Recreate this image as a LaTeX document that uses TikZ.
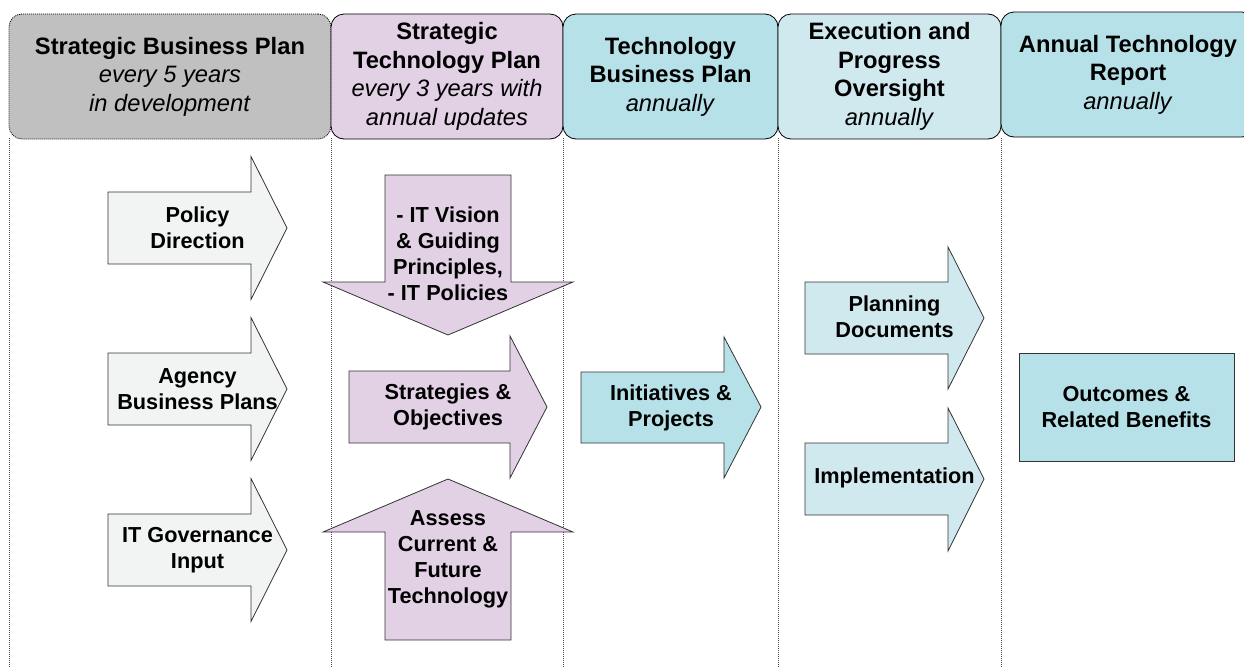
\documentclass[tikz,border=0pt]{standalone}
\usepackage{fontspec}
\setmainfont{Liberation Sans}
\definecolor{sbpgray}{HTML}{C0C0C0}
\definecolor{stppurple}{HTML}{E2D0E5}
\definecolor{tbpteal}{HTML}{B7E1E8}
\definecolor{epoteal}{HTML}{D0E9EF}
\definecolor{inputgray}{HTML}{F2F3F3}
\tikzset{
  hdr/.style={draw=black, line width=0.8pt, rounded corners=13pt, align=center, inner sep=0pt,
    minimum height=125pt, font=\fontsize{23.7}{28.5}\selectfont},
  blk/.style={draw=black!80, line width=0.8pt},
  lbl/.style={align=center, inner sep=0pt, font=\fontsize{21.7}{26}\selectfont\bfseries},
  lane/.style={black!70, line width=0.7pt, dash pattern=on 1pt off 1pt}
}
\begin{document}
\begin{tikzpicture}[x=1pt,y=-1pt]
\useasboundingbox (0,0) rectangle (1244,667);
\clip (0,0) rectangle (1244,667);
% lanes
\foreach \x in {9,331,563,778,1001}{
\draw[lane] (\x,138) -- (\x,667);
}
% headers
\node[hdr, fill=sbpgray, dash pattern=on 1pt off 1pt, minimum width=322pt] (sbp) at (170,76.5)
  {\textbf{Strategic Business Plan}\\\textit{every 5 years}\\\textit{in development}};
\node[hdr, fill=stppurple, minimum width=232pt] (stp) at (447,76.5)
  {\textbf{Strategic}\\\textbf{Technology Plan}\\\textit{every 3 years with}\\\textit{annual updates}};
\node[hdr, fill=tbpteal, minimum width=215pt] (tbp) at (670.5,76.5)
  {\textbf{Technology}\\\textbf{Business Plan}\\\textit{annually}};
\node[hdr, fill=epoteal, minimum width=223pt] (epo) at (889.5,76.5)
  {\textbf{Execution and}\\\textbf{Progress}\\\textbf{Oversight}\\\textit{annually}};
\node[hdr, fill=tbpteal, minimum width=254pt] (atr) at (1128,74.5)
  {\textbf{Annual Technology}\\\textbf{Report}\\\textit{annually}};
% inputs
\foreach \c/\txt/\nm in {228/{Policy\\Direction}/pol, 389/{Agency\\Business Plans}/abp, 550/{IT Governance\\Input}/itg}{
\draw[blk, fill=inputgray] (108,\c-36) -- (251,\c-36) -- (251,\c-71.5) -- (287,\c) -- (251,\c+71.5) -- (251,\c+36) -- (108,\c+36) -- cycle;
\node[lbl] (\nm) at (197.5,\c) {\txt};
}
% strategic technology plan
\draw[blk, fill=stppurple] (385,175) -- (511,175) -- (511,282) -- (573,282) -- (448,335) -- (323,282) -- (385,282) -- cycle;
\node[lbl] (vis) at (448,254) {- IT Vision\\\& Guiding\\Principles,\\- IT Policies};
\draw[blk, fill=stppurple] (349,371) -- (510,371) -- (510,336) -- (547,407) -- (510,478) -- (510,443) -- (349,443) -- cycle;
\node[lbl] (strat) at (448,407) {Strategies \&\\Objectives};
\draw[blk, fill=stppurple] (385,640) -- (511,640) -- (511,532) -- (573,532) -- (448,479) -- (323,532) -- (385,532) -- cycle;
\node[lbl] (ass) at (448,559) {Assess\\Current \&\\Future\\Technology};
% business plan
\draw[blk, fill=tbpteal] (581,372) -- (724,372) -- (724,337) -- (761,407) -- (724,478) -- (724,443) -- (581,443) -- cycle;
\node[lbl] (init) at (671,408) {Initiatives \&\\Projects};
% oversight
\draw[blk, fill=epoteal] (805,282) -- (948,282) -- (948,247) -- (984,318) -- (948,389) -- (948,354) -- (805,354) -- cycle;
\node[lbl] (plan) at (894.5,317) {Planning\\Documents};
\draw[blk, fill=epoteal] (805,443) -- (948,443) -- (948,408) -- (984,479) -- (948,551) -- (948,515) -- (805,515) -- cycle;
\node[lbl] (impl) at (894.5,478) {Implementation};
% report
\node[lbl, draw=black!80, line width=0.8pt, fill=tbpteal, minimum width=215pt, minimum height=108pt] (out) at (1126.5,407)
  {Outcomes \&\\Related Benefits};
\end{tikzpicture}
\end{document}
